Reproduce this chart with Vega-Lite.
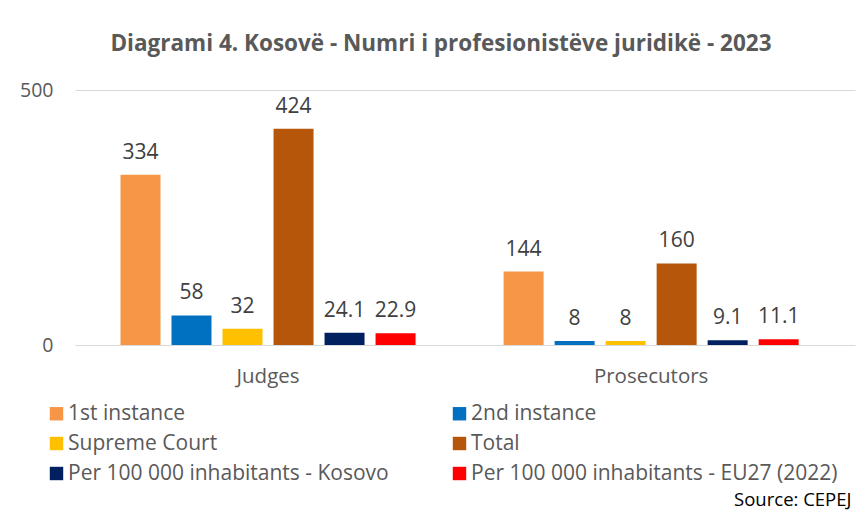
{
  "$schema": "https://vega.github.io/schema/vega-lite/v6.json",
  "width": 780,
  "height": 255,
  "autosize": {"type": "none"},
  "padding": {"left": 75, "top": 90, "right": 4, "bottom": 169},
  "background": "white",
  "title": {
    "text": "Diagrami 4. Kosovë - Numri i profesionistëve juridikë - 2023",
    "font": "Open Sans",
    "fontSize": 22.5,
    "fontWeight": "bold",
    "color": "#595959",
    "anchor": "middle",
    "dx": -24,
    "offset": 25
  },
  "config": {
    "view": {"stroke": null},
    "font": "Open Sans"
  },
  "data": {
    "values": [
      {"group": "Judges", "series": "1st instance", "value": 334, "label": "334"},
      {"group": "Judges", "series": "2nd instance", "value": 58, "label": "58"},
      {"group": "Judges", "series": "Supreme Court", "value": 32, "label": "32"},
      {"group": "Judges", "series": "Total", "value": 424, "label": "424"},
      {"group": "Judges", "series": "Per 100 000 inhabitants - Kosovo", "value": 24.1, "label": "24.1"},
      {"group": "Judges", "series": "Per 100 000 inhabitants - EU27 (2022)", "value": 22.9, "label": "22.9"},
      {"group": "Prosecutors", "series": "1st instance", "value": 144, "label": "144"},
      {"group": "Prosecutors", "series": "2nd instance", "value": 8, "label": "8"},
      {"group": "Prosecutors", "series": "Supreme Court", "value": 8, "label": "8"},
      {"group": "Prosecutors", "series": "Total", "value": 160, "label": "160"},
      {"group": "Prosecutors", "series": "Per 100 000 inhabitants - Kosovo", "value": 9.1, "label": "9.1"},
      {"group": "Prosecutors", "series": "Per 100 000 inhabitants - EU27 (2022)", "value": 11.1, "label": "11.1"}
    ]
  },
  "encoding": {
    "x": {
      "field": "group",
      "type": "nominal",
      "scale": {"paddingInner": 0.2, "paddingOuter": 0.118, "align": 0.44},
      "axis": {
        "title": "Source: CEPEJ",
        "titleFont": "Open Sans",
        "titleFontSize": 18.5,
        "titleFontWeight": "normal",
        "titleColor": "#000000",
        "titleAnchor": "end",
        "titleAlign": "right",
        "titleBaseline": "alphabetic",
        "titleX": 776,
        "titleY": 160,
        "labelAngle": 0,
        "labelFontSize": 20.5,
        "labelColor": "#595959",
        "labelPadding": 21,
        "ticks": false,
        "domain": false,
        "grid": false
      }
    },
    "xOffset": {
      "field": "series",
      "type": "nominal",
      "sort": ["1st instance", "2nd instance", "Supreme Court", "Total", "Per 100 000 inhabitants - Kosovo", "Per 100 000 inhabitants - EU27 (2022)"],
      "scale": {"paddingInner": 0.216, "paddingOuter": 0.112}
    },
    "y": {
      "field": "value",
      "type": "quantitative",
      "scale": {"domain": [0, 500], "nice": false},
      "axis": {
        "title": null,
        "values": [0, 500],
        "labelFontSize": 19.5,
        "labelColor": "#595959",
        "labelPadding": 22,
        "ticks": false,
        "domain": false,
        "gridColor": "#D9D9D9",
        "gridWidth": 1.2
      }
    }
  },
  "layer": [
    {
      "mark": {"type": "bar"},
      "encoding": {
        "color": {
          "field": "series",
          "type": "nominal",
          "scale": {
            "domain": ["1st instance", "2nd instance", "Supreme Court", "Total", "Per 100 000 inhabitants - Kosovo", "Per 100 000 inhabitants - EU27 (2022)"],
            "range": ["#F79646", "#0070C0", "#FFC000", "#B5560A", "#002060", "#FF0000"]
          },
          "legend": {
            "title": null,
            "orient": "none",
            "legendX": -29,
            "legendY": 313,
            "direction": "horizontal",
            "columns": 2,
            "columnPadding": 60,
            "rowPadding": 8,
            "symbolType": "square",
            "symbolSize": 180,
            "symbolStrokeWidth": 0,
            "symbolOpacity": 1,
            "labelFont": "Open Sans",
            "labelFontSize": 21,
            "labelColor": "#595959",
            "labelOffset": 1,
            "labelLimit": 500,
            "padding": 0
          }
        }
      }
    },
    {
      "mark": {"type": "text", "baseline": "bottom", "dy": -12, "fontSize": 21, "color": "#404040", "font": "Open Sans"},
      "encoding": {
        "text": {"field": "label", "type": "nominal"}
      }
    }
  ]
}
